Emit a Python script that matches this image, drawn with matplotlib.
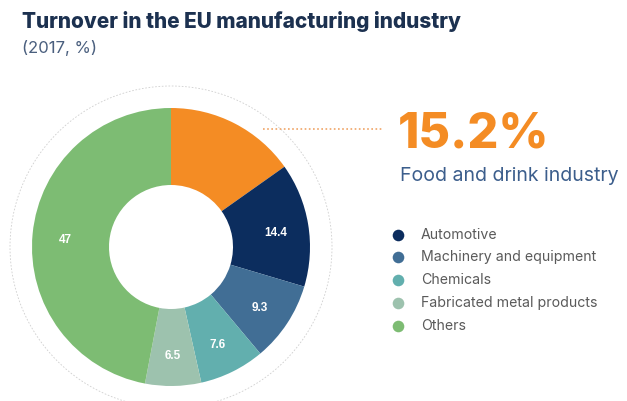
import numpy as np
import matplotlib
matplotlib.use("Agg")
import matplotlib.pyplot as plt
from matplotlib.patches import Circle

# data
categories = ["Food and drink industry", "Automotive", "Machinery and equipment",
              "Chemicals", "Fabricated metal products", "Others"]
values = [15.2, 14.4, 9.3, 7.6, 6.5, 47]
colors = ["#F48C24", "#0C2D5E", "#416E95", "#62AFAE", "#9DC2AE", "#7DBC73"]

W, H = 627, 401
fig = plt.figure(figsize=(W / 100, H / 100), dpi=100)
ax = fig.add_axes([0, 0, 1, 1])

cx, cy = 171, H - 247
r_out, r_in = 139, 62

wedges, _ = ax.pie(values, colors=colors, startangle=90, counterclock=False,
                   center=(cx, cy), radius=r_out, frame=True,
                   wedgeprops=dict(width=r_out - r_in, linewidth=0))
ax.set_xlim(0, W)
ax.set_ylim(0, H)
ax.set_aspect("equal")
ax.axis("off")

# faint outer ring
ax.add_patch(Circle((cx, cy), 161, fill=False, ec="#cfcfcf", lw=0.6,
                    ls=(0, (2, 2))))

# value labels inside slices (skip the highlighted one)
r_lab = 106
for w, v in list(zip(wedges, values))[1:]:
    ang = np.deg2rad((w.theta1 + w.theta2) / 2)
    ax.text(cx + r_lab * np.cos(ang), cy + r_lab * np.sin(ang) - 3, f"{v:g}",
            ha="center", va="center", color="white", fontsize=8.5,
            fontweight="bold", family="Liberation Sans")

# callout line for the highlighted slice
ax.plot([263, 383], [H - 129, H - 129], color="#F0A466", lw=1.2,
        ls=(0, (1, 1.5)))

ax.text(22, H - 22, "Turnover in the EU manufacturing industry",
        color="#1C3150", fontsize=15, fontweight=800, family="Inter",
        va="center", ha="left")
ax.text(22, H - 48, "(2017, %)", color="#4A5F7E", fontsize=12,
        family="Inter", va="center", ha="left")

ax.text(398, H - 134, f"{values[0]:g}%", color=colors[0], fontsize=35,
        fontweight=800, family="Inter", va="center", ha="left")
ax.text(400, H - 176, categories[0], color="#3C5E8C", fontsize=14,
        family="Inter", va="center", ha="left")

# legend
ys = [235, 257, 280, 303, 326]
for name, col, y in zip(categories[1:], colors[1:], ys):
    ax.scatter([398], [H - y], s=70, color=col, lw=0)
    ax.text(421, H - y, name, color="#5A5A5A", fontsize=10.2,
            family="Inter", va="center", ha="left")

fig.savefig("out.png", dpi=100, facecolor="white")
